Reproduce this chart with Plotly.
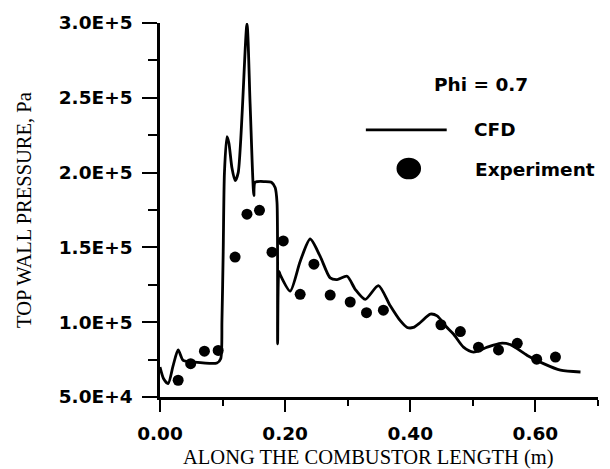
import plotly.graph_objects as go

# CFD curve (x in m, pressure in Pa)
cfd_x = [0.000, 0.006, 0.013, 0.021, 0.029, 0.037, 0.053, 0.091, 0.097, 0.099, 0.101, 0.103,
         0.107, 0.110, 0.115, 0.120, 0.125, 0.139, 0.144, 0.150, 0.152, 0.168, 0.178, 0.184,
         0.187, 0.188, 0.190, 0.192, 0.208, 0.224, 0.240, 0.256, 0.272, 0.283, 0.299, 0.312,
         0.328, 0.349, 0.368, 0.384, 0.395, 0.405, 0.416, 0.432, 0.443, 0.456, 0.469, 0.485,
         0.501, 0.523, 0.544, 0.560, 0.587, 0.613, 0.640, 0.672]
cfd_y = [70000, 62000, 59000, 71000, 81500, 74500, 73400, 72700, 75600, 101000, 147000, 200000,
         224000, 220000, 203000, 194600, 200000, 299300, 246000, 184700, 193500, 194000, 193500, 190000,
         180000, 85500, 134000, 131800, 120800, 140600, 155600, 144000, 129600, 128500, 130700, 122000,
         115300, 124500, 111000, 101000, 96500, 96500, 99800, 105400, 104200, 97600, 92100, 83300,
         80000, 83300, 85900, 85000, 77800, 72300, 67900, 66700]

# Experimental points
exp_x = [0.029, 0.049, 0.071, 0.093, 0.120, 0.139, 0.159, 0.179, 0.197, 0.224, 0.246, 0.272,
         0.304, 0.330, 0.357, 0.449, 0.480, 0.509, 0.541, 0.571, 0.602, 0.632]
exp_y = [61200, 72300, 80600, 81100, 143500, 172200, 174800, 146800, 154300, 118600, 138800, 118100,
         113500, 106400, 108000, 98300, 93700, 83300, 81500, 85900, 75300, 76700]

y_tickvals = [50000, 100000, 150000, 200000, 250000, 300000]
y_ticktext = ["5.0E+4", "1.0E+5", "1.5E+5", "2.0E+5", "2.5E+5", "3.0E+5"]
x_tickvals = [0.0, 0.2, 0.4, 0.6]
x_ticktext = ["0.00", "0.20", "0.40", "0.60"]

tickfont = dict(family="DejaVu Sans", size=18.5, color="black", weight="bold")

fig = go.Figure()
fig.add_trace(go.Scatter(x=cfd_x, y=cfd_y, mode="lines", name="CFD",
                         line=dict(color="black", width=2.8, shape="spline", smoothing=0.7),
                         showlegend=False))
fig.add_trace(go.Scatter(x=exp_x, y=exp_y, mode="markers", name="Experiment",
                         marker=dict(color="black", size=11, symbol="circle"), showlegend=False))

fig.update_layout(
    width=610, height=469,
    margin=dict(l=160, r=12, t=19, b=72),
    paper_bgcolor="white", plot_bgcolor="white",
    xaxis=dict(range=[0, 0.70], showgrid=False, zeroline=False,
               showline=True, linecolor="black", linewidth=2.5,
               tickmode="array", tickvals=x_tickvals, ticktext=x_ticktext,
               ticks="outside", ticklen=12, tickwidth=2, tickcolor="black",
               tickfont=tickfont, ticklabelstandoff=6,
               minor=dict(dtick=0.1, ticks="outside", ticklen=6, tickwidth=2, tickcolor="black")),
    yaxis=dict(range=[50000, 300000], showgrid=False, zeroline=False,
               showline=True, linecolor="black", linewidth=2.5,
               tickmode="array", tickvals=y_tickvals, ticktext=y_ticktext,
               ticks="outside", ticklen=15, tickwidth=2, tickcolor="black",
               tickfont=tickfont, ticklabelstandoff=6,
               minor=dict(dtick=25000, tick0=0, ticks="outside", ticklen=9, tickwidth=2, tickcolor="black")),
)

# axis titles
fig.add_annotation(text="TOP WALL PRESSURE, Pa", xref="paper", yref="paper",
                   x=-0.3105, y=0.5, xanchor="center", yanchor="middle", textangle=-90,
                   showarrow=False, font=dict(family="Liberation Serif", size=20.5, color="black"))
fig.add_annotation(text="ALONG THE COMBUSTOR LENGTH (m)", xref="paper", yref="paper",
                   x=0.4749, y=-0.1614, xanchor="center", yanchor="middle",
                   showarrow=False, font=dict(family="Liberation Serif", size=20.5, color="black"))

# legend drawn manually
legfont = dict(family="DejaVu Sans", size=18.5, color="black", weight="bold")
fig.add_annotation(text="Phi = 0.7", xref="paper", yref="paper", x=0.7329, y=0.836,
                   xanchor="center", yanchor="middle", showarrow=False, font=legfont)
fig.add_shape(type="line", xref="paper", yref="paper", x0=0.470, x1=0.6546, y0=0.714, y1=0.714,
              line=dict(color="black", width=2.8))
fig.add_annotation(text="CFD", xref="paper", yref="paper", x=0.7116, y=0.714,
                   xanchor="left", yanchor="middle", showarrow=False, font=legfont)
fig.add_shape(type="circle", xref="paper", yref="paper", x0=0.5400, x1=0.5960, y0=0.5820, y1=0.6400,
              fillcolor="black", line=dict(color="black", width=0))
fig.add_annotation(text="Experiment", xref="paper", yref="paper", x=0.714, y=0.609,
                   xanchor="left", yanchor="middle", showarrow=False, font=legfont)

fig.write_html("out.html")
